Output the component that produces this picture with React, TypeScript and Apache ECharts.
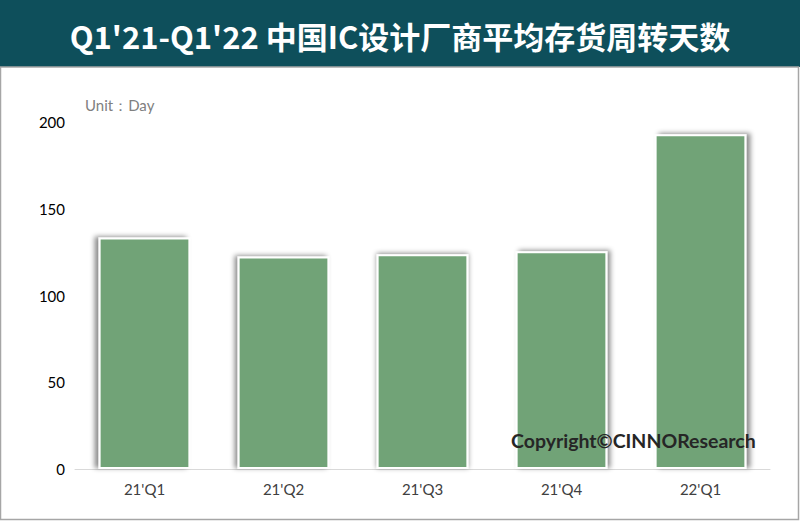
import React, { useEffect, useRef } from "react";
import * as echarts from "echarts";

const categories = ["21'Q1", "21'Q2", "21'Q3", "21'Q4", "22'Q1"];
const values = [133.5, 122.5, 123.8, 125.5, 193];
const shadowOffsets = [-4, -3, 0, 3, 4];
const yTicks = [0, 50, 100, 150, 200];
const title = "Q1'21-Q1'22 中国IC设计厂商平均存货周转天数";

export default function App() {
  const ref = useRef<HTMLDivElement>(null);
  useEffect(() => {
    document.body.style.margin = "0";
    if (!ref.current) return;
    const chart = echarts.init(ref.current, null, { renderer: "svg" });
    chart.setOption({
      animation: false,
      backgroundColor: "#ffffff",
      grid: { left: 75, right: 30, top: 122, bottom: 52 },
      xAxis: {
        type: "category",
        data: categories,
        axisLine: { lineStyle: { color: "#d9d9d9", width: 1 } },
        axisTick: { show: false },
        axisLabel: { color: "#404040", fontSize: 15, fontFamily: "Lato, sans-serif", margin: 12 },
      },
      yAxis: {
        type: "value",
        min: yTicks[0],
        max: yTicks[yTicks.length - 1],
        interval: 50,
        splitLine: { show: false },
        axisLine: { show: false },
        axisTick: { show: false },
        axisLabel: { color: "#000000", fontSize: 15, fontFamily: "Lato, sans-serif", margin: 10 },
      },
      series: [
        {
          type: "bar",
          barWidth: "66%",
          data: values.map((v, i) => ({
            value: v,
            itemStyle: {
              color: "#71a377",
              borderColor: "#ffffff",
              borderWidth: 2,
              shadowColor: "rgba(0,0,0,0.45)",
              shadowBlur: 5,
              shadowOffsetX: shadowOffsets[i],
              shadowOffsetY: -1,
            },
          })),
        },
      ],
      graphic: [
        {
          type: "rect",
          z: 0,
          shape: { x: 0, y: 0, width: 800, height: 67 },
          style: { fill: "#0e4f5b" },
          silent: true,
        },
        {
          type: "rect",
          z: 0,
          shape: { x: 0.5, y: 67, width: 798, height: 452.5 },
          style: { fill: "none", stroke: "#a6a6a6", lineWidth: 1.5 },
          silent: true,
        },
        {
          type: "text",
          z: 100,
          x: 400,
          y: 35,
          style: {
            text: title,
            fill: "#ffffff",
            font: "bold 31px 'Noto Sans CJK SC', sans-serif",
            align: "center",
            verticalAlign: "middle",
            shadowColor: "rgba(0,0,0,0.85)",
            shadowBlur: 4,
            shadowOffsetX: 2,
            shadowOffsetY: 2,
          },
        },
        {
          type: "text",
          z: 100,
          x: 85,
          y: 105,
          style: {
            text: "Unit：Day",
            fill: "#808080",
            font: "15px Lato, sans-serif",
            verticalAlign: "middle",
          },
        },
        {
          type: "text",
          z: 100,
          x: 511,
          y: 440,
          style: {
            text: "Copyright©CINNOResearch",
            fill: "#262626",
            font: "bold 19.5px Lato, sans-serif",
            verticalAlign: "middle",
          },
        },
      ],
    });
    return () => chart.dispose();
  }, []);
  return <div ref={ref} style={{ width: 800, height: 521 }} />;
}
